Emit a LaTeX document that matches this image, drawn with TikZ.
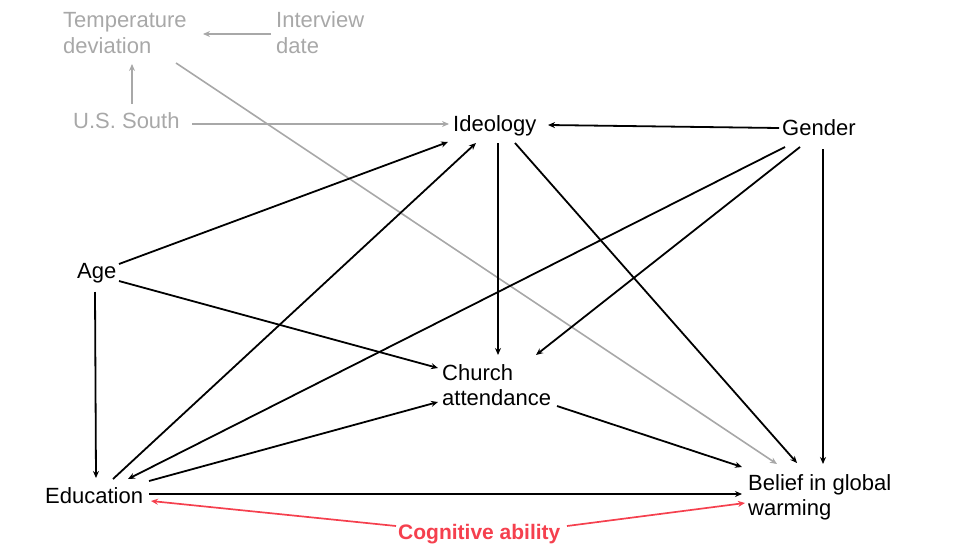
\documentclass[tikz,border=0pt]{standalone}
\usepackage{fontspec}
\setmainfont{Liberation Sans}
\usetikzlibrary{calc,arrows.meta}
\definecolor{lgray}{HTML}{A8A8A8}
\definecolor{cogred}{HTML}{F5404E}
\tikzset{
  lbl/.style={anchor=base west, inner sep=0pt, align=left, font=\fontsize{22}{25}\selectfont},
  glbl/.style={lbl, text=lgray},
  arr/.style={line width=1.8pt, -{Stealth[length=7pt,width=6pt]}},
  garr/.style={arr, draw=lgray, line width=1.6pt},
  rarr/.style={arr, draw=cogred, line width=1.7pt},
}
\begin{document}
\begin{tikzpicture}[x=1pt,y=-1pt]
\useasboundingbox (0,0) rectangle (955,551);
\node[glbl] (temp) at (63,53) {Temperature\\deviation};
\node[glbl] (interview) at (276,53) {Interview\\date};
\node[glbl] (south) at (73,128) {U.S. South};
\node[lbl] (ideo) at (453,131) {Ideology};
\node[lbl] (gender) at (782,135) {Gender};
\node[lbl] (age) at (77,278) {Age};
\node[lbl] (church) at (442,405) {Church\\attendance};
\node[lbl] (edu) at (45,503) {Education};
\node[lbl] (belief) at (748,515) {Belief in global\\warming};
\node[lbl, text=cogred, font=\fontsize{21}{25}\bfseries] (cog) at (398,539) {Cognitive ability};
% gray
\draw[garr] ($(interview.base west)+(-5,-19)$) -- ($(temp.base west)+(140,-19)$);
\draw[garr] ($(south.base west)+(59,-24)$) -- ($(temp.base west)+(69,11)$);
\draw[garr] ($(south.base west)+(119,-4)$) -- ($(ideo.base west)+(-4,-7)$);
\draw[garr] ($(temp.base west)+(113,10)$) -- ($(belief.base west)+(29,-51)$);
% black
\draw[arr] ($(gender.base west)+(-3,-7)$) -- ($(ideo.base west)+(95,-6)$);
\draw[arr] ($(age.base west)+(42,-14)$) -- ($(ideo.base west)+(-5,11)$);
\draw[arr] ($(edu.base west)+(68,-24)$) -- ($(ideo.base west)+(23,12)$);
\draw[arr] ($(ideo.base west)+(45,12)$) -- ($(church.base west)+(56,-50)$);
\draw[arr] ($(ideo.base west)+(62,12)$) -- ($(belief.base west)+(49,-52)$);
\draw[arr] ($(gender.base west)+(18,12)$) -- ($(church.base west)+(94,-50)$);
\draw[arr] ($(gender.base west)+(3,12)$) -- ($(edu.base west)+(83,-24)$);
\draw[arr] ($(gender.base west)+(41,14)$) -- ($(belief.base west)+(75,-51)$);
\draw[arr] ($(age.base west)+(42,3)$) -- ($(church.base west)+(-4,-37)$);
\draw[arr] ($(age.base west)+(18,14)$) -- ($(edu.base west)+(51,-25)$);
\draw[arr] ($(edu.base west)+(104,-22)$) -- ($(church.base west)+(-4,-3)$);
\draw[arr] ($(church.base west)+(115,1)$) -- ($(belief.base west)+(-6,-48)$);
\draw[arr] ($(edu.base west)+(104,-9)$) -- ($(belief.base west)+(-6,-21)$);
% red
\draw[rarr] ($(cog.base west)+(-2,-13)$) -- ($(edu.base west)+(106,-2)$);
\draw[rarr] ($(cog.base west)+(169,-13)$) -- ($(belief.base west)+(-3,-12)$);
\end{tikzpicture}
\end{document}
